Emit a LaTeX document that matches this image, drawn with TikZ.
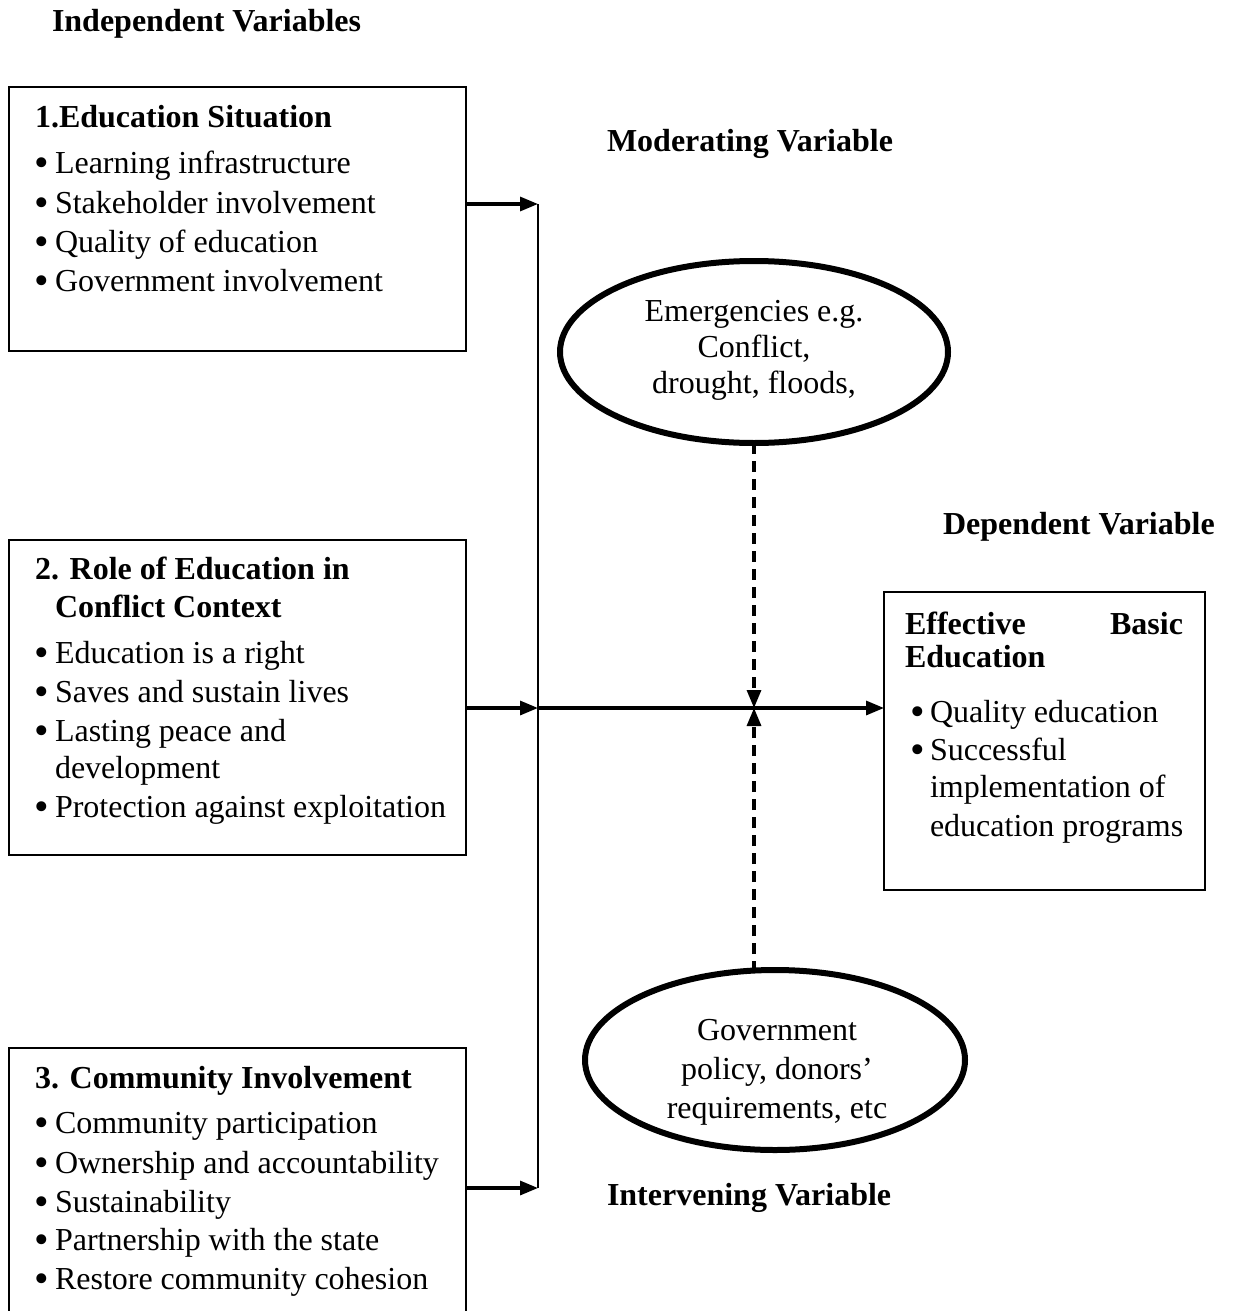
\documentclass[tikz,border=0pt]{standalone}
\usepackage{fontspec}
\setmainfont{Liberation Serif}
\usetikzlibrary{arrows.meta,shapes.geometric,calc}
\newcommand\bitem{\makebox[18pt][l]{\hspace{-2pt}\raisebox{-3pt}{\scalebox{1.3}{\textbullet}}}}
\begin{document}
\begin{tikzpicture}[x=1pt,y=-1pt,
  every node/.style={font=\fontsize{32}{39}\selectfont, inner sep=0pt, outer sep=0pt},
  txt/.style={anchor=base west},
  hd/.style={anchor=base west,font=\fontsize{32}{39}\selectfont\bfseries},
  vbox/.style={draw,line width=2pt,anchor=north west},
  oval/.style={draw,ellipse,line width=6pt},
  conn/.style={line width=3.2pt,-{Triangle[length=18pt,width=14pt]}},
  dconn/.style={conn,dash pattern=on 11pt off 7pt},
]
\clip (0,0) rectangle (1234,1311);
\fill[white] (0,0) rectangle (1234,1311);

% headings
\node[hd] (hind) at (52,32) {Independent Variables};
\node[hd] (hmod) at (607,151) {Moderating Variable};
\node[hd] (hdep) at (943,534) {Dependent Variable};
\node[hd] (hint) at (607,1205) {Intervening Variable};

% box 1
\node[vbox,minimum width=457pt,minimum height=264pt] (b1) at (9,87) {};
\node[hd] (b1t) at (35,128) {1.Education Situation};
\node[txt] (b1a) at (37,173) {\bitem Learning infrastructure};
\node[txt] (b1b) at (37,213) {\bitem Stakeholder involvement};
\node[txt] (b1c) at (37,252) {\bitem Quality of education};
\node[txt] (b1d) at (37,291) {\bitem Government involvement};

% box 2
\node[vbox,minimum width=457pt,minimum height=315pt] (b2) at (9,540) {};
\node[hd] (b2t) at (35,579) {2. Role of Education in};
\node[hd] (b2u) at (55,617) {Conflict Context};
\node[txt] (b2a) at (37,663) {\bitem Education is a right};
\node[txt] (b2b) at (37,702) {\bitem Saves and sustain lives};
\node[txt] (b2c) at (37,741) {\bitem Lasting peace and};
\node[txt] (b2d) at (55,778) {development};
\node[txt] (b2e) at (37,817) {\bitem Protection against exploitation};

% box 3
\node[vbox,minimum width=457pt,minimum height=300pt] (b3) at (9,1048) {};
\node[hd] (b3t) at (35,1088) {3. Community Involvement};
\node[txt] (b3a) at (37,1133) {\bitem Community participation};
\node[txt] (b3b) at (37,1173) {\bitem Ownership and accountability};
\node[txt] (b3c) at (37,1212) {\bitem Sustainability};
\node[txt] (b3d) at (37,1250) {\bitem Partnership with the state};
\node[txt] (b3e) at (37,1289) {\bitem Restore community cohesion};

% box 4
\node[vbox,minimum width=321pt,minimum height=298pt] (b4) at (884,592) {};
\node[hd] (b4t) at (905,630) {\parbox{278pt}{Effective\hfill Basic}};
\node[hd] (b4u) at (905,667) {Education};
\node[txt] (b4a) at (912,722) {\bitem Quality education};
\node[txt] (b4b) at (912,760) {\bitem Successful};
\node[txt] (b4c) at (930,797) {implementation of};
\node[txt] (b4d) at (930,836) {education programs};

% ellipses
\node[oval,minimum width=388pt,minimum height=182pt] (e1) at (754,352) {};
\node[align=center,font=\fontsize{32}{36}\selectfont] (e1t) at (754,350) {Emergencies e.g.\\Conflict,\\drought, floods,};
\node[oval,minimum width=380pt,minimum height=180pt] (e2) at (775,1060) {};
\node[align=center] (e2t) at (777,1072) {Government\\policy, donors'\\requirements, etc};

% connectors
\coordinate (j1) at (538,204);
\coordinate (j2) at (538,708);
\coordinate (j3) at (538,1188);
\coordinate (m) at (754,708);
\coordinate (e2top) at (754,972);
\draw[line width=2pt] (j1) -- (j3);
\draw[conn] (b1.east |- j1) -- (j1);
\draw[conn] (b2.east |- j2) -- (j2);
\draw[conn] (b3.east |- j3) -- (j3);
\draw[conn] (j2) -- (b4.west |- j2);
\draw[dconn] (e1.south) -- (m);
\draw[dconn] (e2top) -- (m);
\end{tikzpicture}
\end{document}
